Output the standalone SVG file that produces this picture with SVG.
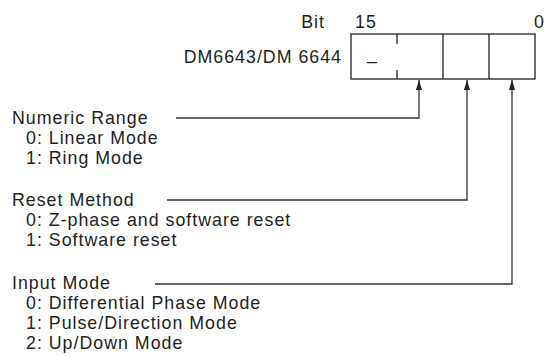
<svg xmlns="http://www.w3.org/2000/svg" width="545" height="356" viewBox="0 0 545 356">
<defs>
<style>
text{font-family:"Liberation Sans",Arial,Helvetica,sans-serif;font-size:17.8px;letter-spacing:1px;fill:#231f20}
.box{fill:#fff;stroke:#231f20;stroke-width:1.3}
.div{stroke:#231f20;stroke-width:1.3}
.conn{fill:none;stroke:#333;stroke-width:1.3}
</style>
<marker id="ah" viewBox="0 0 10 6" refX="10" refY="3" markerWidth="10" markerHeight="6" markerUnits="userSpaceOnUse" orient="auto">
<path d="M0,0 L10,3 L0,6 Z" fill="#231f20"/>
</marker>
</defs>
<rect width="545" height="356" fill="#fff"/>
<g id="register">
<text x="325" y="28" text-anchor="end">Bit</text>
<text x="355" y="28">15</text>
<text x="534" y="28">0</text>
<text x="342" y="63" text-anchor="end">DM6643/DM 6644</text>
<rect class="box" x="351" y="34" width="184" height="45"/>
<line class="div" x1="397" y1="34" x2="397" y2="44"/>
<line class="div" x1="397" y1="70" x2="397" y2="79"/>
<line class="div" x1="443" y1="34" x2="443" y2="79"/>
<line class="div" x1="489" y1="34" x2="489" y2="79"/>
<text x="367" y="59">_</text>
</g>
<g id="numeric-range">
<text x="12" y="124">Numeric Range</text>
<text x="26" y="144">0: Linear Mode</text>
<text x="26" y="164">1: Ring Mode</text>
</g>
<g id="reset-method">
<text x="12" y="206">Reset Method</text>
<text x="26" y="226">0: Z-phase and software reset</text>
<text x="26" y="246">1: Software reset</text>
</g>
<g id="input-mode">
<text x="12" y="289">Input Mode</text>
<text x="26" y="309">0: Differential Phase Mode</text>
<text x="26" y="329">1: Pulse/Direction Mode</text>
<text x="26" y="349">2: Up/Down Mode</text>
</g>
<g id="connectors">
<polyline class="conn" points="176,118 419,118 419,80" marker-end="url(#ah)"/>
<polyline class="conn" points="167,200 467,200 467,80" marker-end="url(#ah)"/>
<polyline class="conn" points="155,284 512,284 512,80" marker-end="url(#ah)"/>
</g>
</svg>
